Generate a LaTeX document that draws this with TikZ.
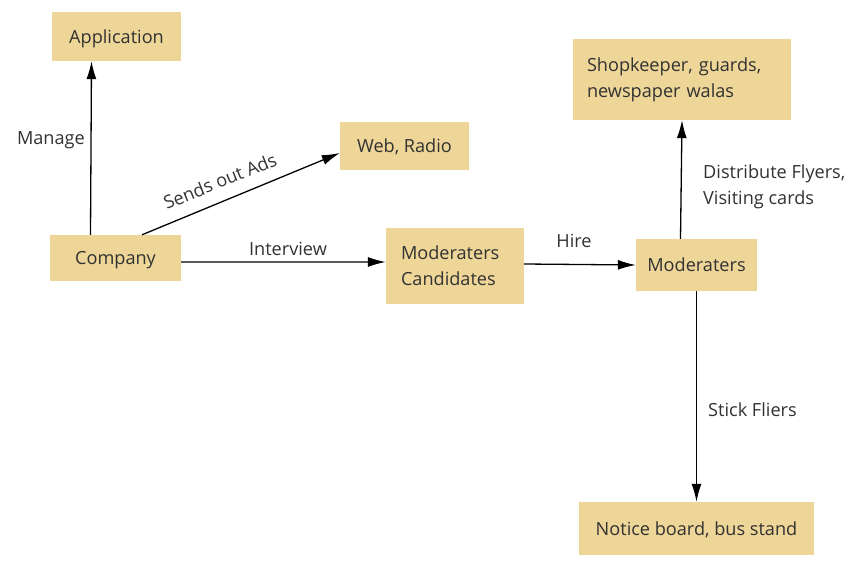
\documentclass[tikz,border=0pt]{standalone}
\usepackage{fontspec}
\setmainfont{Open Sans}
\usetikzlibrary{arrows.meta,positioning}
\definecolor{boxfill}{RGB}{238,213,152}
\definecolor{txtgray}{RGB}{50,50,50}
\tikzset{
  box/.style={fill=boxfill, text=txtgray, inner sep=0pt, font=\fontsize{18.2}{26}\selectfont},
  onebox/.style={box, text depth=0pt},
  lbl/.style={text=txtgray, inner sep=0pt, font=\fontsize{18.2}{26}\selectfont},
  arr/.style={-{Latex[length=18bp,width=10bp]}, line width=1.3bp}
}
\begin{document}
\begin{tikzpicture}[x=1bp,y=-1bp]
\useasboundingbox (0,0) rectangle (845,571);
% boxes
\node[onebox, minimum width=129bp, minimum height=49bp] (app) at (116.5,36.5) {Application};
\node[onebox, minimum width=129bp, minimum height=48bp] (web) at (404.5,146) {Web, Radio};
\node[onebox, minimum width=131bp, minimum height=46bp] (company) at (115.5,258) {Company};
\node[box, inner xsep=15bp, text width=108bp, minimum height=76bp, align=left] (cand) at (455,266) {Moderaters\\Candidates};
\node[box, inner xsep=14bp, text width=190bp, minimum height=81bp, align=left] (shop) at (682,79.5) {Shopkeeper, guards,\\newspaper walas};
\node[onebox, minimum width=121bp, minimum height=52bp] (mod) at (696.5,265) {Moderaters};
\node[onebox, minimum width=235bp, minimum height=53bp] (notice) at (696.5,528.5) {Notice board, bus stand};
% labels
\node[lbl, anchor=east] (manage) at (85,140) {Manage};
\node[lbl, rotate=22] (ads) at (220,181) {Sends out Ads};
\node[lbl] (interview) at (288,249) {Interview};
\node[lbl] (hire) at (574,241) {Hire};
\node[lbl, anchor=west, align=left] (flyers) at (703,187) {Distribute Flyers,\\Visiting cards};
\node[lbl, anchor=west] (stick) at (708,410) {Stick Fliers};
% arrows
\draw[arr] ([xshift=-25bp]company.north) -- ([xshift=-25bp]app.south);
\draw[arr] ([xshift=26.5bp]company.north) -- ([yshift=-7bp]web.west);
\draw[arr] ([yshift=-4bp]company.east) -- ([yshift=4bp]cand.west);
\draw[arr] ([yshift=2bp]cand.east) -- (mod.west);
\draw[arr] ([xshift=-16bp]mod.north) -- (shop.south);
\draw[arr] (mod.south) -- (notice.north);
\end{tikzpicture}
\end{document}
